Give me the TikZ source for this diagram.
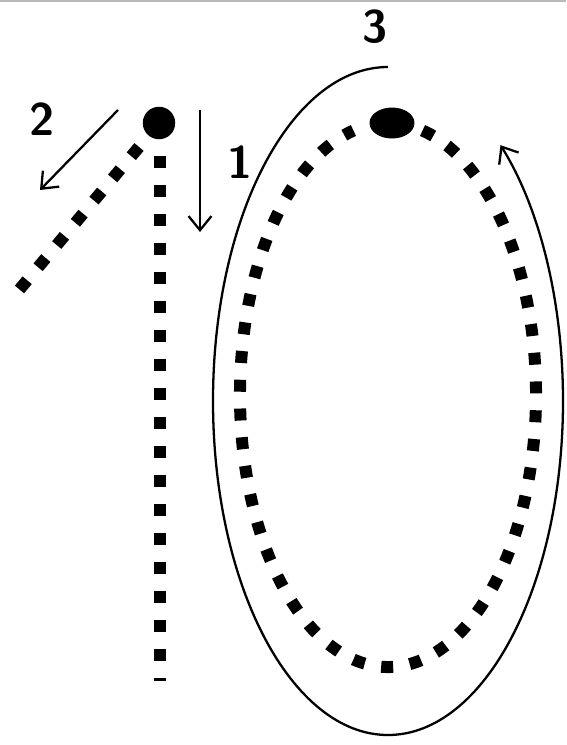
\documentclass[tikz,border=0pt]{standalone}
\usepackage{tikz}
\usetikzlibrary{arrows.meta,positioning,calc,shapes.geometric}

\begin{document}
\begin{tikzpicture}[x=0.02cm,y=-0.02cm,>={Straight Barb[length=8pt,width=13pt]},
  dots/.style={line width=0.24cm,dash pattern=on 0.24cm off 0.34cm},
  pen/.style={line width=1.3pt},
  digit/.style={font=\sffamily\bfseries\fontsize{26}{26}\selectfont}]
  \useasboundingbox (0,0) rectangle (566,745);
  \draw[gray!55,line width=1pt] (0,1)--(566,1);
  % the one
  \node[circle,fill,inner sep=0pt,minimum size=0.65cm] (top1) at (159,123) {};
  \draw[dots] (160,156)--(160,681);
  \draw[dots] (139,147)--(19,290);
  \coordinate (a2s) at (118,110);
  \coordinate (a2e) at (40,190);
  \draw[->,pen] (a2s)--(a2e);
  \coordinate (a1s) at (200,110);
  \coordinate (a1e) at (200,232);
  \draw[->,pen] (a1s)--(a1e);
  \node[digit] (n2) at (42,119) {2};
  \node[digit] (n1) at (240,162) {1};
  % the zero
  \draw[dots,dash pattern=on 0.24cm off 0.336cm] (388,395) ++(283.5:148 and 272)
    arc[start angle=283.5,end angle=616.5,x radius=148,y radius=272];
  \node[ellipse,fill,inner sep=0pt,minimum width=0.9cm,minimum height=0.62cm] (top0) at (392,123) {};
  \draw[->,pen] (388,401) ++(270:175 and 334)
    arc[start angle=270,end angle=-50,x radius=175,y radius=334];
  \node[digit] (n3) at (375,27) {3};
\end{tikzpicture}
\end{document}
